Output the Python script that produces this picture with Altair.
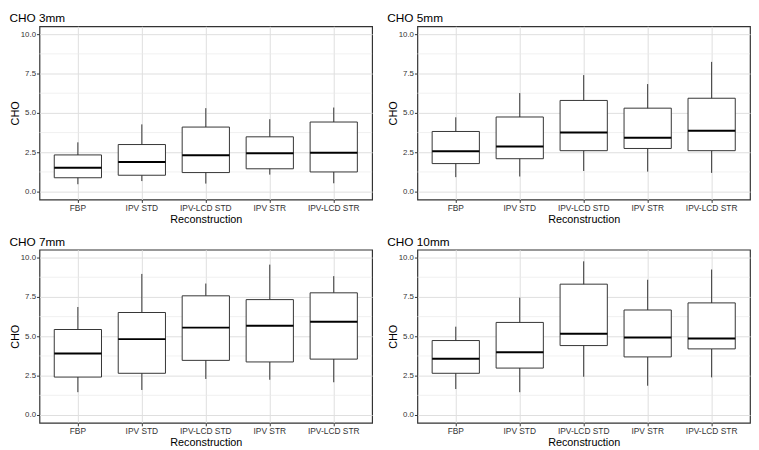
import altair as alt
import pandas as pd

FONT = "Liberation Sans"

categories = ["FBP", "IPV STD", "IPV-LCD STD", "IPV STR", "IPV-LCD STR"]
panels = ["CHO 3mm", "CHO 5mm", "CHO 7mm", "CHO 10mm"]

# lower whisker, q1, median, q3, upper whisker per reconstruction
lo_3 = [0.47, 0.67, 0.51, 1.08, 0.53]
q1_3 = [0.88, 1.04, 1.21, 1.45, 1.25]
med_3 = [1.51, 1.88, 2.31, 2.43, 2.47]
q3_3 = [2.33, 2.99, 4.10, 3.48, 4.42]
hi_3 = [3.13, 4.27, 5.30, 4.60, 5.34]

lo_5 = [0.92, 0.96, 1.31, 1.27, 1.19]
q1_5 = [1.78, 2.09, 2.60, 2.74, 2.60]
med_5 = [2.56, 2.86, 3.76, 3.42, 3.87]
q3_5 = [3.82, 4.74, 5.79, 5.30, 5.93]
hi_5 = [4.72, 6.26, 7.40, 6.83, 8.24]

lo_7 = [1.45, 1.59, 2.29, 2.24, 2.08]
q1_7 = [2.41, 2.65, 3.47, 3.37, 3.55]
med_7 = [3.90, 4.82, 5.55, 5.67, 5.92]
q3_7 = [5.43, 6.51, 7.57, 7.33, 7.76]
hi_7 = [6.86, 8.96, 8.35, 9.55, 8.82]

lo_10 = [1.65, 1.45, 2.43, 1.86, 2.39]
q1_10 = [2.65, 2.98, 4.41, 3.69, 4.20]
med_10 = [3.57, 3.98, 5.16, 4.92, 4.86]
q3_10 = [4.73, 5.88, 8.31, 6.67, 7.12]
hi_10 = [5.61, 7.45, 9.76, 8.59, 9.24]

y_ticks = [0, 2.5, 5, 7.5, 10]
minor_ticks = [1.25, 3.75, 6.25, 8.75]

stats = {
    "CHO 3mm": (lo_3, q1_3, med_3, q3_3, hi_3),
    "CHO 5mm": (lo_5, q1_5, med_5, q3_5, hi_5),
    "CHO 7mm": (lo_7, q1_7, med_7, q3_7, hi_7),
    "CHO 10mm": (lo_10, q1_10, med_10, q3_10, hi_10),
}

W, H = 338, 176
BOX = 48


def panel(name):
    lo, q1, med, q3, hi = stats[name]
    df = pd.DataFrame({"cat": categories, "lo": lo, "q1": q1, "med": med, "q3": q3, "hi": hi})
    xs = alt.X(
        "cat:N",
        sort=categories,
        scale=alt.Scale(paddingInner=0, paddingOuter=0.1),
        axis=alt.Axis(title="Reconstruction", labelAngle=0, grid=True, titlePadding=1.5),
    )
    ys = alt.Scale(domain=[-0.5, 10.5], nice=False, zero=False)
    yaxis = alt.Axis(title="CHO", values=y_ticks, format=".1f", grid=True, labelFontSize=8)

    minor = alt.Chart(pd.DataFrame({"m": minor_ticks})).mark_rule(
        color="#ebebeb", strokeWidth=0.7
    ).encode(y=alt.Y("m:Q", scale=ys, axis=yaxis))

    whisk = alt.Chart(df).mark_rule(color="#333333", strokeWidth=1).encode(
        x=xs, y=alt.Y("lo:Q", scale=ys, axis=yaxis), y2="hi:Q"
    )
    box = alt.Chart(df).mark_bar(
        fill="white", stroke="#333333", strokeWidth=1, size=BOX
    ).encode(x=xs, y=alt.Y("q1:Q", scale=ys, axis=yaxis), y2="q3:Q")
    medn = alt.Chart(df).mark_tick(
        color="#000000", thickness=2, size=BOX, opacity=1
    ).encode(x=xs, y=alt.Y("med:Q", scale=ys, axis=yaxis))

    return alt.layer(minor, whisk, box, medn).properties(
        width=W,
        height=H,
        title=alt.TitleParams(
            name, anchor="start", fontSize=12, fontWeight="normal",
            font=FONT, color="#000000", offset=1,
        ),
    )


row1 = alt.hconcat(panel("CHO 3mm"), panel("CHO 5mm"), spacing=13)
row2 = alt.hconcat(panel("CHO 7mm"), panel("CHO 10mm"), spacing=13)

chart = alt.vconcat(row1, row2, spacing=10).properties(padding=0).configure_view(
    stroke="#333333", strokeWidth=1.2
).configure_axis(
    domain=False,
    gridColor="#dedede",
    gridWidth=1,
    tickColor="#333333",
    tickSize=3,
    labelColor="#333333",
    labelFont=FONT,
    labelFontSize=8.5,
    labelPadding=1,
    titleFont=FONT,
    titleFontSize=11,
    titleFontWeight="normal",
    titleColor="#000000",
    titlePadding=0,
).configure_title(font=FONT)

chart.save("out.html", embed_options={"renderer": "svg", "actions": False})
